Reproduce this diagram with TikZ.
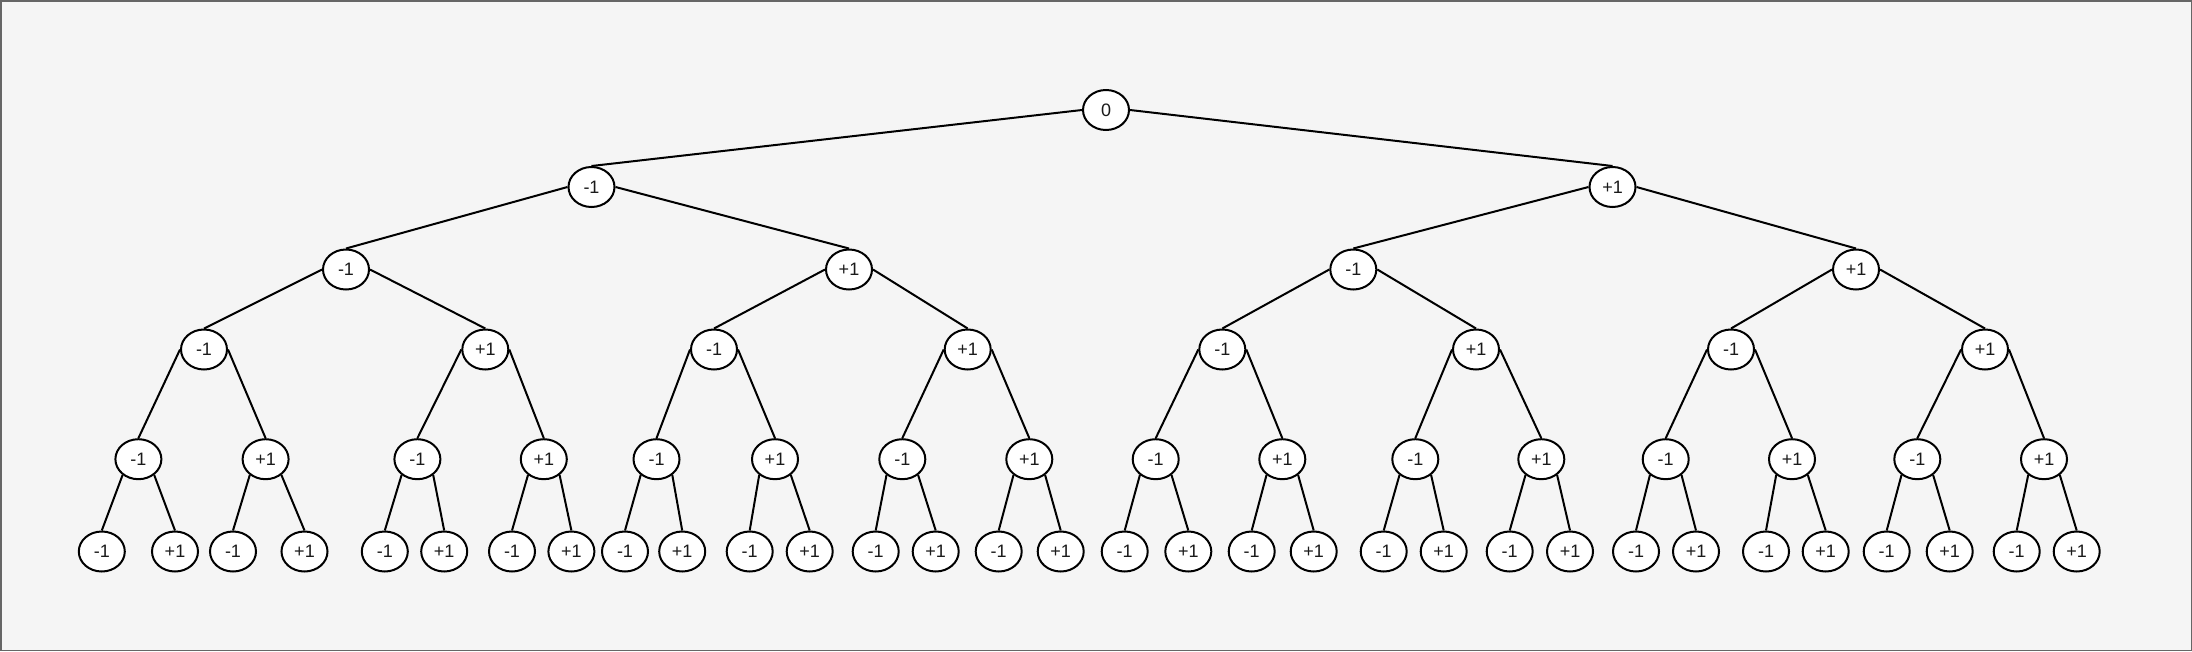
\documentclass[tikz,border=0pt]{standalone}
\usepackage{fontspec}
\setmainfont{Liberation Sans}
\usetikzlibrary{shapes.geometric}
\definecolor{bgc}{HTML}{F5F5F5}
\definecolor{bdc}{HTML}{666666}
\definecolor{txt}{HTML}{1A1A1A}
\begin{document}
\begin{tikzpicture}[x=1pt,y=-1pt,
  nd/.style={ellipse, draw=black, line width=2pt, fill=white,
    minimum width=46pt, minimum height=40pt, inner sep=0pt,
    text=txt, font=\fontsize{18}{20}\selectfont},
  edge/.style={line width=2pt, draw=black}]
\path[fill=bgc, draw=bdc, line width=1.5pt] (0.75,0.75) rectangle (2191.25,650.25);
\useasboundingbox (0,0) rectangle (2192,651);
% nodes
\node[nd] (L0-1) at (1106,110) {0};
\foreach \x [count=\i] in {591.5,1612.5}
  {\ifodd\i \node[nd] (L1-\i) at (\x,187) {-1}; \else \node[nd] (L1-\i) at (\x,187) {+1}; \fi}
\foreach \x [count=\i] in {346,849,1353.3,1856}
  {\ifodd\i \node[nd] (L2-\i) at (\x,269.5) {-1}; \else \node[nd] (L2-\i) at (\x,269.5) {+1}; \fi}
\foreach \x [count=\i] in {204,485.3,714,967.7,1222.3,1476,1731,1985}
  {\ifodd\i \node[nd] (L3-\i) at (\x,349.5) {-1}; \else \node[nd] (L3-\i) at (\x,349.5) {+1}; \fi}
\foreach \x [count=\i] in {138.4,265.6,417.4,543.8,656.5,775,902.3,1029.3,1155.7,1282.3,1415.3,1541.3,1665.7,1792,1917.3,2044}
  {\ifodd\i \node[nd] (L4-\i) at (\x,459.2) {-1}; \else \node[nd] (L4-\i) at (\x,459.2) {+1}; \fi}
\foreach \x [count=\i] in {101.8,175,233,304.5,384.8,444.2,512,571.4,625,682.2,749.7,809.7,875.7,935.7,998.7,1060.7,1124.7,1188.3,1251.7,1313.7,1383.7,1443.7,1509.7,1570,1636,1696,1766,1825.7,1886.7,1949.7,2016.7,2076.7}
  {\ifodd\i \node[nd] (L5-\i) at (\x,551.5) {-1}; \else \node[nd] (L5-\i) at (\x,551.5) {+1}; \fi}
% connectors
\foreach \k/\n in {0/1,1/2,2/4,3/8}{
  \pgfmathtruncatemacro\kk{\k+1}
  \foreach \j in {1,...,\n}{
    \pgfmathtruncatemacro\a{2*\j-1}
    \pgfmathtruncatemacro\b{2*\j}
    \draw[edge] (L\k-\j.west) -- (L\kk-\a.north);
    \draw[edge] (L\k-\j.east) -- (L\kk-\b.north);
  }
}
\foreach \j in {1,...,16}{
  \pgfmathtruncatemacro\a{2*\j-1}
  \pgfmathtruncatemacro\b{2*\j}
  \draw[edge] (L4-\j.225) -- (L5-\a.north);
  \draw[edge] (L4-\j.315) -- (L5-\b.north);
}
\end{tikzpicture}
\end{document}
